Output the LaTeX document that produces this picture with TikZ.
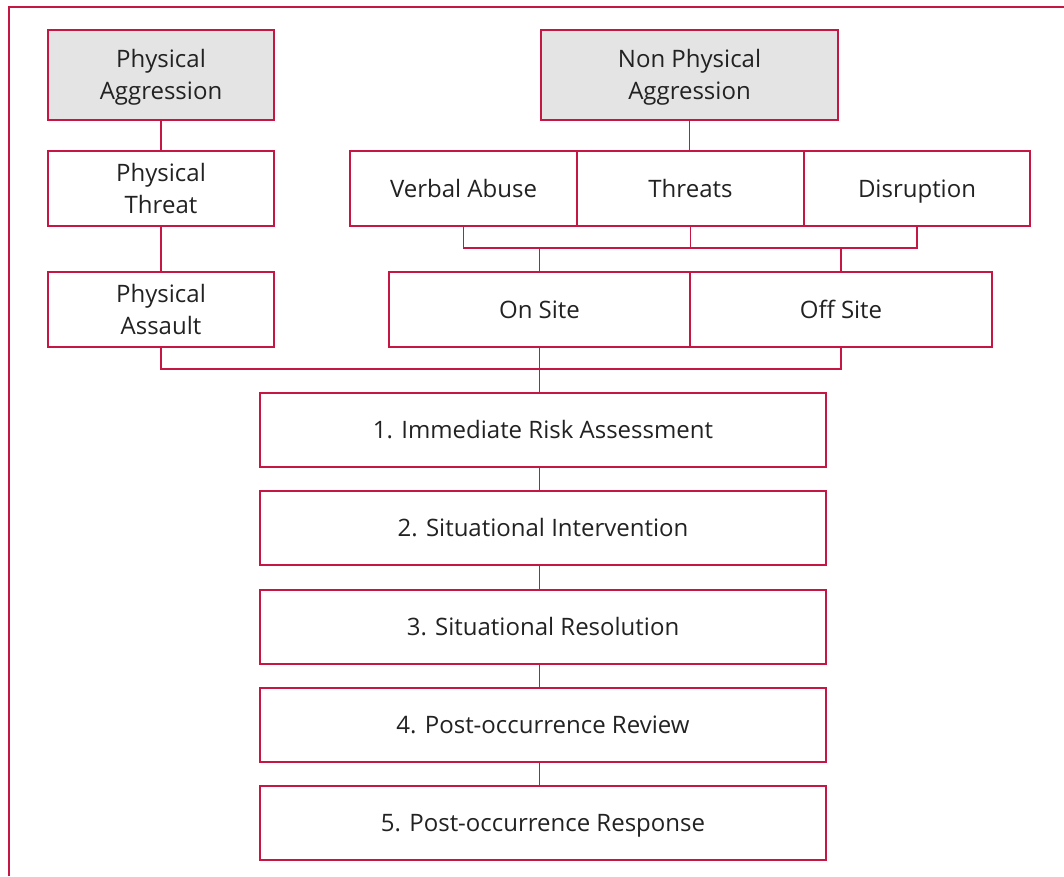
\documentclass[tikz,border=0pt]{standalone}
\usepackage{fontspec}
\setmainfont{Open Sans}
\usepackage{tikz}

\definecolor{framered}{RGB}{198,22,68}
\definecolor{boxgray}{RGB}{228,228,228}
\definecolor{textgray}{RGB}{34,34,34}

\begin{document}
\begin{tikzpicture}[x=0.75pt,y=-0.75pt,
    line width=0.9pt, draw=framered,
    box/.style={draw=framered, line width=0.9pt, inner sep=0pt, align=center,
        text=textgray, font=\fontsize{18}{24}\selectfont,
        text height=12.9pt, text depth=0pt,
        minimum height=75*0.75pt},
    twoline/.style={text height=36.9pt},
    headbox/.style={box, twoline, fill=boxgray, minimum height=90*0.75pt},
    stepbox/.style={box, minimum width=566*0.75pt, minimum height=74*0.75pt}]
\useasboundingbox (0,0) rectangle (1064,876);
\draw [framered] (9,876) -- (9,7) -- (1064,7);
    \node [headbox, minimum width=226*0.75pt] (pagg) at (161,75) {Physical\\Aggression};
    \node [headbox, minimum width=297*0.75pt] (npagg) at (689.5,75) {Non Physical\\Aggression};
\node [box, twoline, minimum width=226*0.75pt] (pthreat) at (161,188.5) {Physical\\Threat};
\node [box, minimum width=227*0.75pt] (verbal) at (463.5,188.5) {Verbal Abuse};
\node [box, minimum width=227*0.75pt] (threats) at (690.5,188.5) {Threats};
\node [box, minimum width=226*0.75pt] (disrupt) at (917,188.5) {Disruption};
\node [box, twoline, minimum width=226*0.75pt] (passault) at (161,309.5) {Physical\\Assault};
\node [box, minimum width=301*0.75pt] (onsite) at (539.5,309.5) {On Site};
\node [box, minimum width=302*0.75pt] (offsite) at (841,309.5) {Off Site};
\node [stepbox] (step1) at (543,430) {1. Immediate Risk Assessment};
\node [stepbox] (step2) at (543,528) {2. Situational Intervention};
\node [stepbox] (step3) at (543,627) {3. Situational Resolution};
\node [stepbox] (step4) at (543,725) {4. Post-occurrence Review};
\node [stepbox] (step5) at (543,823) {5. Post-occurrence Response};
\coordinate (vbar) at (690.5,248);
\coordinate (sbar) at (539.5,369);
\draw [framered] (pagg) -- (pthreat);
\draw [framered] (pthreat) -- (passault);
\draw [framered] (npagg.south) -- (npagg.south |- threats.north);
\draw [framered] (verbal.south) |- (vbar) -| (disrupt.south);
\draw [framered] (threats.south) -- (vbar);
\draw [framered] (onsite.north) -- (onsite.north |- vbar);
\draw [framered] (offsite.north) -- (offsite.north |- vbar);
\draw [framered] (passault.south) |- (sbar) -| (offsite.south);
\draw [framered] (onsite.south) -- (onsite.south |- step1.north);
\draw [framered] (step1.south -| sbar) -- (step2.north -| sbar);
\draw [framered] (step2.south -| sbar) -- (step3.north -| sbar);
\draw [framered] (step3.south -| sbar) -- (step4.north -| sbar);
\draw [framered] (step4.south -| sbar) -- (step5.north -| sbar);
\end{tikzpicture}
\end{document}
